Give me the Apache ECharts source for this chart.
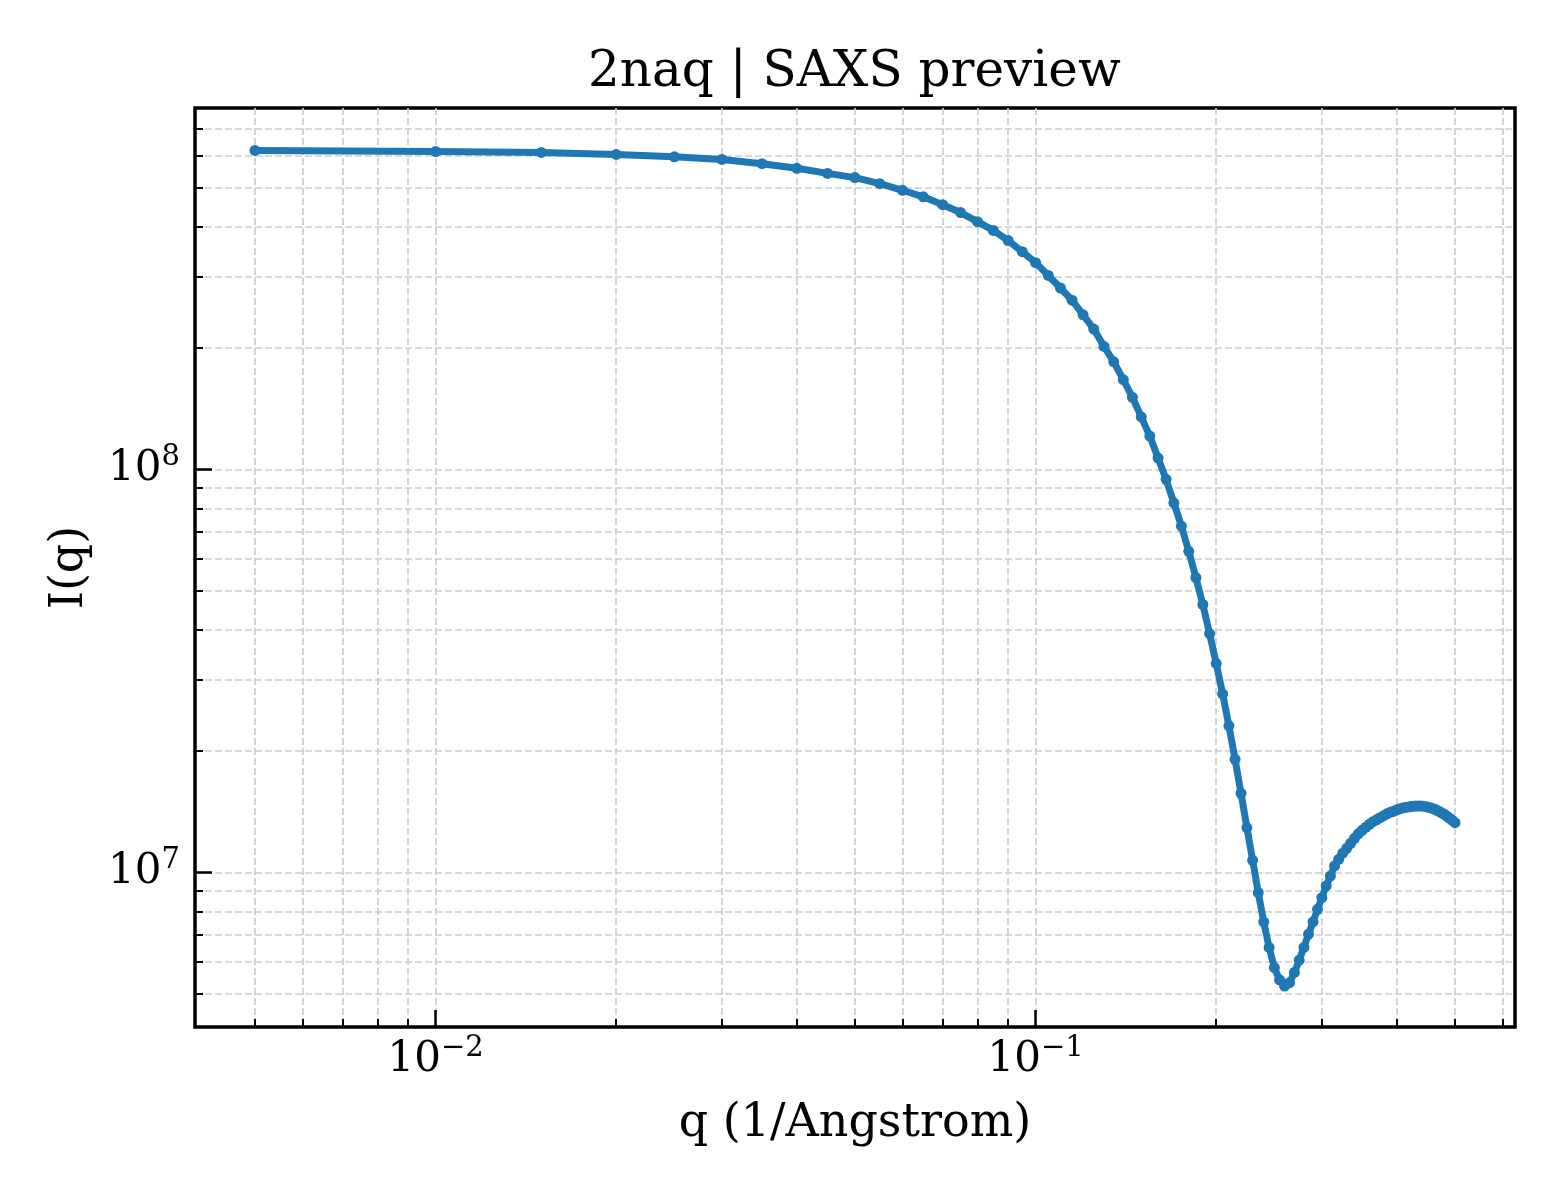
<!DOCTYPE html>
<html>
<head>
<meta charset="utf-8">
<title>2naq | SAXS preview</title>
<script src="https://cdn.jsdelivr.net/npm/echarts@6/dist/echarts.min.js"></script>
<style>
html, body { margin: 0; padding: 0; background: #fff; }
#chart { width: 1560px; height: 1200px; }
</style>
</head>
<body>
<div id="chart"></div>
<script>
// q (1/Angstrom)
var qValues = [
  0.005, 0.010, 0.015, 0.020, 0.025, 0.030, 0.035, 0.040, 0.045, 0.050,
  0.055, 0.060, 0.065, 0.070, 0.075, 0.080, 0.085, 0.090, 0.095, 0.100,
  0.105, 0.110, 0.115, 0.120, 0.125, 0.130, 0.135, 0.140, 0.145, 0.150,
  0.155, 0.160, 0.165, 0.170, 0.175, 0.180, 0.185, 0.190, 0.195, 0.200,
  0.205, 0.210, 0.215, 0.220, 0.225, 0.230, 0.235, 0.240, 0.245, 0.250,
  0.255, 0.260, 0.265, 0.270, 0.275, 0.280, 0.285, 0.290, 0.295, 0.300,
  0.305, 0.310, 0.315, 0.320, 0.325, 0.330, 0.335, 0.340, 0.345, 0.350,
  0.355, 0.360, 0.365, 0.370, 0.375, 0.380, 0.385, 0.390, 0.395, 0.400,
  0.405, 0.410, 0.415, 0.420, 0.425, 0.430, 0.435, 0.440, 0.445, 0.450,
  0.455, 0.460, 0.465, 0.470, 0.475, 0.480, 0.485, 0.490, 0.495, 0.500
];
// I(q)
var intensity = [
  6.19e8, 6.15e8, 6.12e8, 6.05e8, 5.97e8, 5.88e8, 5.74e8, 5.59e8, 5.43e8, 5.30e8,
  5.12e8, 4.93e8, 4.75e8, 4.54e8, 4.34e8, 4.12e8, 3.92e8, 3.70e8, 3.47e8, 3.26e8,
  3.03e8, 2.82e8, 2.63e8, 2.42e8, 2.23e8, 2.02e8, 1.85e8, 1.67e8, 1.51e8, 1.35e8,
  1.21e8, 1.067e8, 9.45e7, 8.26e7, 7.23e7, 6.26e7, 5.39e7, 4.62e7, 3.91e7, 3.30e7,
  2.77e7, 2.31e7, 1.907e7, 1.57e7, 1.291e7, 1.071e7, 8.90e6, 7.53e6, 6.51e6, 5.80e6,
  5.41e6, 5.22e6, 5.32e6, 5.64e6, 6.05e6, 6.51e6, 7.02e6, 7.53e6, 8.09e6, 8.65e6,
  9.25e6, 9.79e6, 1.037e7, 1.077e7, 1.115e7, 1.147e7, 1.180e7, 1.214e7, 1.246e7, 1.271e7,
  1.293e7, 1.315e7, 1.335e7, 1.350e7, 1.366e7, 1.381e7, 1.397e7, 1.409e7, 1.417e7, 1.429e7,
  1.438e7, 1.445e7, 1.450e7, 1.454e7, 1.458e7, 1.460e7, 1.460e7, 1.460e7, 1.457e7, 1.452e7,
  1.445e7, 1.438e7, 1.429e7, 1.417e7, 1.405e7, 1.393e7, 1.377e7, 1.361e7, 1.346e7, 1.328e7
];

// minor tick positions (log axes)
var xMinorTicks = [0.005, 0.006, 0.007, 0.008, 0.009,
                   0.02, 0.03, 0.04, 0.05, 0.06, 0.07, 0.08, 0.09,
                   0.2, 0.3, 0.4, 0.5, 0.6];
var yMinorTicks = [5e6, 6e6, 7e6, 8e6, 9e6,
                   2e7, 3e7, 4e7, 5e7, 6e7, 7e7, 8e7, 9e7,
                   2e8, 3e8, 4e8, 5e8, 6e8, 7e8];

var xRange = [0.003972, 0.6295];
var yRange = [4.13e6, 7.89e8];

var FONT = 'DejaVu Serif';
var BLUE = '#1f77b4';

function powerLabel(value) {
  var e = Math.log10(value);
  var n = Math.round(e);
  if (Math.abs(e - n) > 1e-6) return '';
  var sup = n < 0 ? '\u2212' + (-n) : String(n);
  return '{b|10}{s|' + sup + '}';
}

var labelRich = {
  b: { fontSize: 42, fontFamily: FONT, color: '#000' },
  s: { fontSize: 29, fontFamily: FONT, color: '#000', padding: [0, 0, 24, 0] }
};

var gridLine = { show: true, lineStyle: { color: '#cdcdcd', width: 1.7, type: [7, 3] } };

var points = qValues.map(function (q, i) { return [q, intensity[i]]; });

var myChart = echarts.init(document.getElementById('chart'));

var option = {
  animation: false,
  backgroundColor: '#fff',
  title: {
    text: '2naq | SAXS preview',
    left: 583,
    top: 43,
    textStyle: { fontFamily: FONT, fontSize: 50, fontWeight: 'normal', color: '#000' }
  },
  grid: {
    left: 195, right: 45, top: 108, bottom: 173,
    show: true, borderColor: '#000', borderWidth: 3.5, backgroundColor: 'transparent'
  },
  xAxis: [
    {
      type: 'log', logBase: 10, position: 'bottom',
      min: xRange[0], max: xRange[1],
      name: 'q (1/Angstrom)', nameLocation: 'middle', nameGap: 74,
      nameTextStyle: { fontFamily: FONT, fontSize: 46, color: '#000' },
      axisLine: { show: false, onZero: false },
      axisTick: { show: true, inside: true, length: 17, lineStyle: { color: '#000', width: 2.5 } },
      axisLabel: { show: true, margin: 7, formatter: powerLabel, rich: labelRich,
                   showMinLabel: false, showMaxLabel: false },
      splitLine: { show: true, showMinLine: false, showMaxLine: false, lineStyle: gridLine.lineStyle }
    },
    {
      type: 'value', position: 'bottom',
      min: Math.log10(xRange[0]), max: Math.log10(xRange[1]),
      axisLine: { show: false, onZero: false },
      axisTick: { show: true, inside: true, length: 8, customValues: xMinorTicks.map(Math.log10),
                  lineStyle: { color: '#000', width: 2 } },
      axisLabel: { show: false },
      splitLine: gridLine
    }
  ],
  yAxis: [
    {
      type: 'log', logBase: 10, position: 'left',
      min: yRange[0], max: yRange[1],
      name: 'I(q)', nameLocation: 'middle', nameGap: 102,
      nameTextStyle: { fontFamily: FONT, fontSize: 46, color: '#000' },
      axisLine: { show: false, onZero: false },
      axisTick: { show: true, inside: true, length: 17, lineStyle: { color: '#000', width: 2.5 } },
      axisLabel: { show: true, margin: 15, formatter: powerLabel, rich: labelRich,
                   showMinLabel: false, showMaxLabel: false },
      splitLine: { show: true, showMinLine: false, showMaxLine: false, lineStyle: gridLine.lineStyle }
    },
    {
      type: 'value', position: 'left',
      min: Math.log10(yRange[0]), max: Math.log10(yRange[1]),
      axisLine: { show: false, onZero: false },
      axisTick: { show: true, inside: true, length: 8, customValues: yMinorTicks.map(Math.log10),
                  lineStyle: { color: '#000', width: 2 } },
      axisLabel: { show: false },
      splitLine: gridLine
    }
  ],
  series: [
    {
      name: 'I(q)',
      type: 'line',
      xAxisIndex: 0,
      yAxisIndex: 0,
      data: points,
      symbol: 'circle',
      symbolSize: 11,
      showSymbol: true,
      lineStyle: { width: 7, color: BLUE },
      itemStyle: { color: BLUE },
      z: 5
    }
  ]
};

myChart.setOption(option);
</script>
</body>
</html>
